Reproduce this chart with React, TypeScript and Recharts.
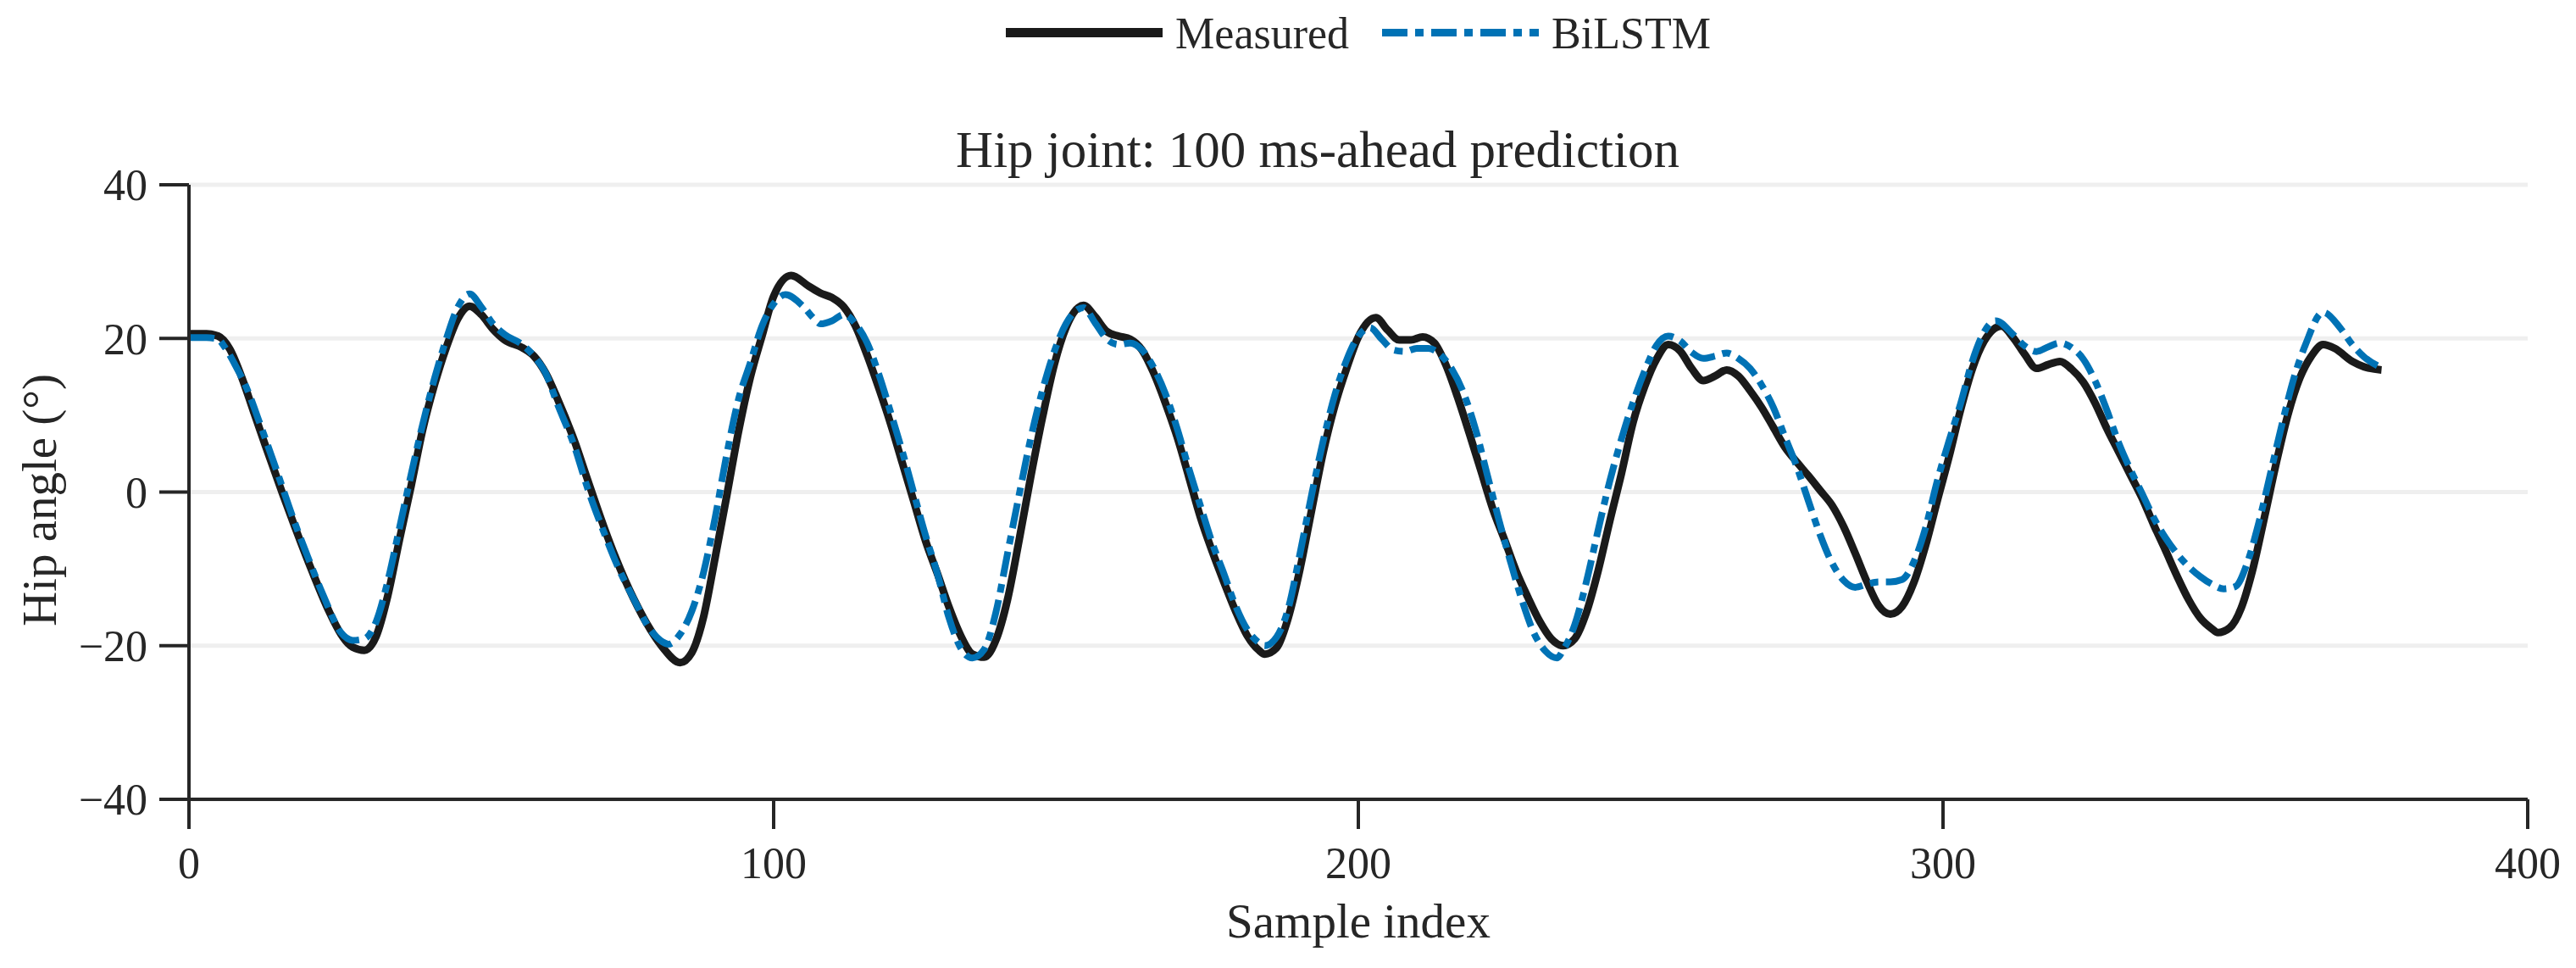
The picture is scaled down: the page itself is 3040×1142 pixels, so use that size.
import { CartesianGrid, Label, Legend, Line, LineChart, XAxis, YAxis } from "recharts";

const W = 3040;
const H = 1142;
const FONT = '"Liberation Serif", "Times New Roman", serif';
const INK = "#262626";

// axis ticks
const xTicks = [0, 100, 200, 300, 400];
const yTicks = [-40, -20, 0, 20, 40];

// measured hip angle (deg)
const measuredIdx = [
  0, 3, 5, 7, 9, 11, 13, 16, 18, 21, 24, 26, 28, 30, 32, 34, 36, 38, 40, 42, 44, 46, 48, 50, 52, 54, 57, 59,
  61, 63, 66, 68, 71, 73, 76, 79, 81, 84, 86, 88, 90, 92, 94, 96, 98, 100, 103, 106, 108, 110, 112, 114,
  116, 118, 120, 122, 124, 126, 128, 130, 132, 134, 136, 138, 140, 142, 144, 146, 148, 150, 153, 155, 157,
  159, 161, 163, 165, 167, 169, 171, 173, 175, 177, 179, 181, 183, 184, 186, 188, 190, 192, 194, 196, 198,
  200, 203, 205, 207, 209, 211, 213, 215, 217, 219, 221, 223, 225, 227, 229, 231, 233, 235, 237, 239, 241,
  243, 245, 247, 249, 251, 253, 255, 257, 259, 261, 263, 265, 267, 269, 271, 273, 275, 277, 279, 281, 283,
  285, 287, 289, 291, 293, 295, 297, 299, 301, 303, 305, 307, 310, 312, 314, 316, 318, 320, 322, 324, 326,
  328, 330, 332, 334, 336, 338, 340, 342, 344, 346, 347, 349, 351, 353, 355, 357, 359, 361, 363, 365, 367,
  370, 372, 375,
];
const measuredDeg = [
  20.6, 20.6, 20.3, 18.6, 15.0, 10.6, 6.2, -0.2, -4.3, -10.2, -15.6, -18.5, -20.2, -20.6, -18.8, -13.5, -6.2,
  0.8, 8.2, 14.0, 18.8, 22.6, 24.2, 23.1, 21.2, 19.8, 18.8, 17.7, 15.5, 12.2, 6.5, 2.0, -4.6, -8.6, -13.8,
  -18.0, -20.2, -22.2, -20.9, -16.3, -8.5, -0.4, 7.9, 14.9, 20.3, 25.5, 28.2, 26.8, 25.9, 25.3, 24.1, 21.6,
  17.8, 13.5, 8.9, 3.8, -1.3, -6.4, -10.6, -15.0, -18.7, -21.1, -21.5, -19.3, -14.0, -6.2, 2.1, 9.8, 16.6,
  21.4, 24.3, 22.8, 20.9, 20.3, 19.9, 18.5, 15.5, 11.6, 7.2, 2.0, -3.3, -7.7, -11.7, -15.5, -18.7, -20.6,
  -21.1, -20.3, -16.4, -10.1, -2.4, 5.2, 11.3, 16.1, 20.2, 22.7, 21.1, 19.8, 19.8, 20.2, 19.4, 16.5, 12.3,
  7.6, 2.7, -2.2, -6.2, -10.3, -13.7, -16.8, -19.1, -20.0, -19.1, -15.7, -10.3, -3.8, 2.4, 9.1, 13.8, 17.3,
  19.2, 18.4, 16.1, 14.5, 15.1, 15.9, 15.1, 13.2, 11.0, 8.4, 5.8, 3.9, 2.1, 0.2, -1.7, -4.5, -8.0, -11.7,
  -14.8, -15.9, -14.9, -11.8, -7.0, -1.2, 4.5, 10.7, 16.0, 19.6, 21.6, 20.1, 17.9, 16.1, 16.6, 17.0, 16.0,
  14.3, 11.6, 8.3, 5.3, 2.3, -0.7, -4.2, -7.5, -10.9, -14.0, -16.4, -17.8, -18.3, -17.7, -15.1, -10.0, -3.2,
  3.8, 10.1, 14.8, 17.7, 19.2, 18.7, 17.0, 16.3, 15.9,
];

// BiLSTM 100 ms-ahead prediction (deg)
const bilstmIdx = [
  0, 3, 5, 6, 8, 10, 12, 15, 18, 20, 23, 26, 28, 30, 32, 34, 36, 38, 40, 42, 44, 46, 48, 50, 52, 54, 57, 59,
  61, 63, 66, 68, 71, 73, 76, 79, 81, 82, 84, 86, 88, 90, 92, 94, 96, 98, 100, 102, 105, 107, 108, 110, 112,
  114, 116, 118, 120, 122, 124, 126, 128, 130, 132, 134, 136, 138, 140, 142, 144, 146, 148, 150, 153, 155,
  157, 159, 161, 163, 165, 167, 169, 171, 173, 175, 177, 179, 181, 183, 184, 186, 188, 190, 192, 194, 196,
  198, 200, 202, 204, 206, 208, 210, 212, 214, 216, 218, 220, 222, 224, 226, 228, 230, 232, 234, 235, 237,
  239, 241, 243, 245, 247, 249, 251, 253, 255, 257, 259, 261, 263, 265, 267, 269, 271, 273, 275, 277, 279,
  281, 283, 285, 287, 289, 291, 293, 295, 297, 299, 301, 303, 305, 307, 309, 312, 314, 316, 318, 320, 322,
  324, 326, 328, 330, 332, 334, 336, 338, 340, 342, 344, 346, 348, 350, 352, 354, 356, 358, 360, 362, 365,
  368, 370, 372, 375,
];
const bilstmDeg = [
  20.1, 20.1, 19.9, 19.0, 16.4, 13.3, 9.2, 2.8, -3.8, -7.8, -13.5, -18.3, -19.3, -19.1, -16.9, -11.6, -4.7,
  2.3, 8.9, 14.8, 19.9, 24.1, 25.8, 24.1, 21.9, 20.5, 19.2, 17.7, 15.5, 11.5, 5.8, 0.9, -5.3, -9.1, -13.8,
  -18.0, -19.5, -19.8, -18.5, -15.5, -10.5, -3.3, 5.0, 12.1, 16.8, 21.6, 24.5, 25.7, 24.2, 22.5, 21.9, 22.3,
  23.1, 21.9, 19.4, 15.3, 10.4, 5.3, -0.2, -5.7, -10.6, -16.4, -20.3, -21.6, -20.5, -15.7, -8.0, -0.3, 7.1,
  13.3, 18.3, 21.9, 24.0, 22.0, 19.9, 19.2, 19.4, 18.5, 16.2, 12.8, 8.3, 3.1, -1.8, -6.6, -10.6, -14.8,
  -17.9, -19.6, -20.0, -18.9, -15.2, -8.1, -0.4, 6.7, 12.7, 17.2, 20.3, 21.4, 19.9, 18.5, 18.3, 18.7, 18.7,
  17.9, 16.0, 12.9, 8.3, 2.4, -3.5, -9.0, -14.1, -18.3, -20.7, -21.6, -20.6, -17.3, -11.7, -5.0, 1.4, 6.9,
  11.7, 15.8, 19.1, 20.3, 19.7, 18.2, 17.4, 17.7, 18.1, 17.4, 16.1, 13.9, 11.0, 7.1, 3.3, -1.2, -5.6, -9.2,
  -11.5, -12.4, -12.0, -11.7, -11.7, -11.4, -9.1, -4.7, 1.4, 6.6, 11.5, 17.0, 20.8, 22.3, 20.5, 19.0, 18.3,
  18.9, 19.4, 18.8, 17.3, 14.5, 10.7, 6.5, 3.0, -0.1, -3.3, -5.9, -8.0, -9.7, -11.0, -12.0, -12.6, -12.3,
  -9.3, -4.0, 2.4, 8.9, 14.8, 19.2, 23.4, 21.3, 19.2, 17.6, 16.2,
];

const zip = (xs: number[], ys: number[]) => xs.map((x, i) => ({ x, y: ys[i] }));

const SERIES = [
  { name: "Measured", data: zip(measuredIdx, measuredDeg), color: "#1a1a1a", width: 9, legendWidth: 11, dash: undefined as string | undefined },
  { name: "BiLSTM", data: zip(bilstmIdx, bilstmDeg), color: "#0072b5", width: 8, legendWidth: 9, dash: "30 9 10 9" },
];

const fmtY = (v: number) => (v < 0 ? `\u2212${-v}` : `${v}`);

function LegendRow() {
  return (
    <div
      style={{
        display: "flex",
        justifyContent: "center",
        fontFamily: FONT,
        fontSize: 52,
        lineHeight: "58px",
        color: INK,
      }}
    >
      {SERIES.map((s, i) => (
        <div key={s.name} style={{ display: "flex", marginLeft: i ? 39 : 0 }}>
          <svg width={185} height={58}>
            <line x1={0} x2={185} y1={27.5} y2={27.5} stroke={s.color} strokeWidth={s.legendWidth} strokeDasharray={s.dash} />
          </svg>
          <span style={{ marginLeft: 15 }}>{s.name}</span>
        </div>
      ))}
    </div>
  );
}

export default function App() {
  return (
    <div style={{ position: "absolute", left: 0, top: 0, width: W, height: H, background: "#fff" }}>
      <div
        style={{
          position: "absolute",
          top: 146,
          left: 175,
          width: 2760,
          textAlign: "center",
          fontFamily: FONT,
          fontSize: 61,
          lineHeight: "61px",
          color: INK,
          zIndex: 1,
        }}
      >
        Hip joint: 100 ms-ahead prediction
      </div>
      <LineChart width={W} height={H} margin={{ top: 218, right: 57, bottom: 0, left: 0 }}>
        <CartesianGrid vertical={false} stroke="#efefef" strokeWidth={5} horizontalValues={yTicks} />
        <XAxis
          type="number"
          dataKey="x"
          domain={[0, 400]}
          ticks={xTicks}
          height={199}
          tickSize={35}
          tickMargin={21}
          axisLine={{ stroke: INK, strokeWidth: 4 }}
          tickLine={{ stroke: INK, strokeWidth: 4 }}
          tick={{ fontSize: 52, fill: INK, fontFamily: FONT }}
          allowDuplicatedCategory={false}
        >
          <Label
            content={() => (
              <text x={1603} y={1106} textAnchor="middle" fontSize={57} fill={INK} fontFamily={FONT}>
                Sample index
              </text>
            )}
          />
        </XAxis>
        <YAxis
          type="number"
          domain={[-40, 40]}
          ticks={yTicks}
          width={223}
          tickSize={35}
          tickMargin={14}
          tickFormatter={fmtY}
          axisLine={{ stroke: INK, strokeWidth: 4 }}
          tickLine={{ stroke: INK, strokeWidth: 4 }}
          tick={{ fontSize: 52, fill: INK, fontFamily: FONT }}
        >
          <Label
            content={() => (
              <text
                x={0}
                y={0}
                transform="translate(66 590) rotate(-90)"
                textAnchor="middle"
                fontSize={57}
                fill={INK}
                fontFamily={FONT}
              >
                Hip angle (°)
              </text>
            )}
          />
        </YAxis>
        <Legend
          layout="horizontal"
          verticalAlign="middle"
          align="center"
          wrapperStyle={{ top: 10.5, left: 223, width: 2760 }}
          content={() => <LegendRow />}
        />
        {SERIES.map((s) => (
          <Line
            key={s.name}
            name={s.name}
            data={s.data}
            dataKey="y"
            type="monotone"
            stroke={s.color}
            strokeWidth={s.width}
            strokeDasharray={s.dash}
            dot={false}
            activeDot={false}
            isAnimationActive={false}
          />
        ))}
      </LineChart>
    </div>
  );
}
